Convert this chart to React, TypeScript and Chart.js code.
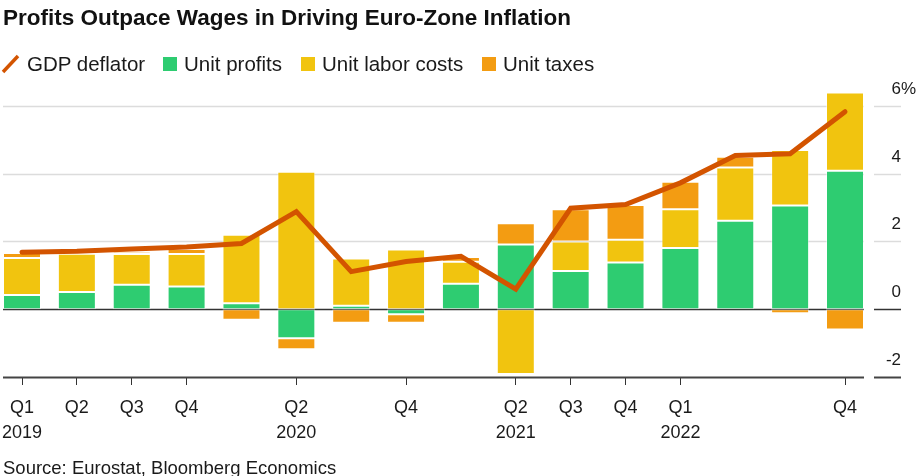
import React, { useEffect, useRef } from "react";
import { Chart, registerables } from "chart.js";

Chart.register(...registerables);

const quarters = [
  "Q1 2019", "Q2 2019", "Q3 2019", "Q4 2019",
  "Q1 2020", "Q2 2020", "Q3 2020", "Q4 2020",
  "Q1 2021", "Q2 2021", "Q3 2021", "Q4 2021",
  "Q1 2022", "Q2 2022", "Q3 2022", "Q4 2022",
];
const xTickTop = ["Q1", "Q2", "Q3", "Q4", "", "Q2", "", "Q4", "", "Q2", "Q3", "Q4", "Q1", "", "", "Q4"];
const xTickBottom = ["2019", "", "", "", "", "2020", "", "", "", "2021", "", "", "2022", "", "", ""];

const unitProfits = [0.42, 0.51, 0.72, 0.67, 0.18, -0.86, 0.10, -0.15, 0.75, 1.91, 1.13, 1.38, 1.81, 2.61, 3.06, 4.09];
const unitLabor = [1.09, 1.13, 0.91, 0.96, 2.02, 4.06, 1.40, 1.76, 0.65, -1.91, 0.87, 0.67, 1.14, 1.57, 1.64, 2.31];
const unitTaxes = [0.15, 0.04, 0.07, 0.15, -0.31, -0.32, -0.40, -0.25, 0.14, 0.63, 0.95, 1.03, 0.81, 0.32, -0.12, -0.60];
const gdpDeflator = [1.68, 1.71, 1.78, 1.84, 1.94, 2.88, 1.11, 1.41, 1.56, 0.59, 2.98, 3.09, 3.73, 4.54, 4.59, 5.83];

const yTicks = [-2, 0, 2, 4, 6];
const yMin = -2;
const yMax = 6.5;

const GREEN = "#2ECC71";
const YELLOW = "#F1C40F";
const ORANGE = "#F39C12";
const LINE = "#D35400";
const TEXT = "#1a1a1a";
const FONT = "'Liberation Sans', Arial, sans-serif";

const axesPlugin = {
  id: "customAxes",
  beforeDatasetsDraw(chart: any) {
    const ctx = chart.ctx;
    const y = chart.scales.y;
    const segs = [[3, 864], [874, 901]];
    ctx.save();
    yTicks.forEach((v) => {
      const py = Math.round(y.getPixelForValue(v)) + 0.5;
      if (v === 0) {
        ctx.strokeStyle = "#333333";
        ctx.lineWidth = 1.5;
      } else if (v === yMin) {
        ctx.strokeStyle = "#444444";
        ctx.lineWidth = 2;
      } else {
        ctx.strokeStyle = "#dcdcdc";
        ctx.lineWidth = 1.5;
      }
      segs.forEach(([a, b]) => {
        ctx.beginPath();
        ctx.moveTo(a, py);
        ctx.lineTo(b, py);
        ctx.stroke();
      });
    });
    ctx.restore();
  },
  afterDraw(chart: any) {
    const ctx = chart.ctx;
    const y = chart.scales.y;
    ctx.save();
    ctx.font = `17px ${FONT}`;
    ctx.fillStyle = TEXT;
    ctx.textBaseline = "alphabetic";
    yTicks.forEach((v) => {
      const py = y.getPixelForValue(v) - 12;
      ctx.textAlign = "right";
      ctx.fillText(String(v), 901, py);
      if (v === 6) {
        ctx.textAlign = "left";
        ctx.fillText("%", 901, py);
      }
    });
    ctx.restore();
  },
};

function ChartCanvas() {
  const ref = useRef<HTMLCanvasElement | null>(null);
  useEffect(() => {
    if (!ref.current) return;
    const barCommon = {
      type: "bar" as const,
      borderWidth: 1,
      borderColor: "rgba(255,255,255,0.45)",
      borderSkipped: false,
      categoryPercentage: 1,
      barPercentage: 0.6925,
      clip: false,
      order: 2,
      stack: "bars",
    };
    const chart = new Chart(ref.current, {
      type: "bar",
      data: {
        labels: quarters,
        datasets: [
          { ...barCommon, label: "Unit profits", data: unitProfits, backgroundColor: GREEN },
          { ...barCommon, label: "Unit labor costs", data: unitLabor, backgroundColor: YELLOW },
          { ...barCommon, label: "Unit taxes", data: unitTaxes, backgroundColor: ORANGE },
          {
            type: "line" as const,
            label: "GDP deflator",
            data: gdpDeflator,
            borderColor: LINE,
            backgroundColor: LINE,
            borderWidth: 5,
            borderCapStyle: "round",
            borderJoinStyle: "miter",
            pointRadius: 0,
            tension: 0,
            order: 0,
            stack: "line",
            clip: false,
          } as any,
        ],
      },
      options: {
        responsive: false,
        animation: false,
        events: [],
        layout: { padding: { top: 89, left: 22, right: 71, bottom: 30 } },
        plugins: {
          legend: { display: false },
          title: { display: false },
          tooltip: { enabled: false },
        },
        scales: {
          x: {
            type: "category",
            stacked: true,
            offset: false,
            border: { display: false },
            grid: {
              offset: false,
              drawOnChartArea: false,
              drawTicks: true,
              tickLength: 19,
              tickBorderDash: [8, 40],
              lineWidth: 1,
              color: (c: any) => (xTickTop[c.index] ? "#333333" : "rgba(0,0,0,0)"),
            },
            ticks: {
              autoSkip: false,
              maxRotation: 0,
              minRotation: 0,
              padding: 0,
              color: TEXT,
              font: { family: FONT, size: 18, lineHeight: "25px" } as any,
              callback: (_v: any, i: number) => [xTickTop[i], xTickBottom[i]],
            },
          },
          y: {
            display: false,
            stacked: true,
            min: yMin,
            max: yMax,
          },
        },
      },
      plugins: [axesPlugin],
    });
    return () => chart.destroy();
  }, []);
  return (
    <canvas
      ref={ref}
      width={916}
      height={476}
      style={{ position: "absolute", left: 0, top: 0, width: 916, height: 476 }}
    />
  );
}

const legendText: React.CSSProperties = {
  position: "absolute",
  top: 53,
  fontFamily: FONT,
  fontSize: 20.5,
  lineHeight: "21px",
  color: TEXT,
  whiteSpace: "nowrap",
};

function square(left: number, color: string) {
  return (
    <div style={{ position: "absolute", left, top: 57, width: 14, height: 14, background: color }} />
  );
}

export default function App() {
  return (
    <div style={{ position: "absolute", left: 0, top: 0, width: 916, height: 476, background: "#fff", overflow: "hidden" }}>
      <ChartCanvas />
      <div
        style={{
          position: "absolute",
          left: 3,
          top: 7,
          fontFamily: FONT,
          fontWeight: "bold",
          fontSize: 22.5,
          lineHeight: "22px",
          color: "#111",
          whiteSpace: "nowrap",
        }}
      >
        Profits Outpace Wages in Driving Euro-Zone Inflation
      </div>
      <svg style={{ position: "absolute", left: 0, top: 52, width: 22, height: 24 }} width={22} height={24}>
        <line x1={3} y1={20} x2={18} y2={4} stroke={LINE} strokeWidth={3.5} />
      </svg>
      <div style={{ ...legendText, left: 27 }}>GDP deflator</div>
      {square(163, GREEN)}
      <div style={{ ...legendText, left: 184 }}>Unit profits</div>
      {square(301, YELLOW)}
      <div style={{ ...legendText, left: 322 }}>Unit labor costs</div>
      {square(482, ORANGE)}
      <div style={{ ...legendText, left: 503 }}>Unit taxes</div>
      <div
        style={{
          position: "absolute",
          left: 3,
          top: 459,
          fontFamily: FONT,
          fontSize: 18.5,
          lineHeight: "18px",
          color: TEXT,
          whiteSpace: "nowrap",
        }}
      >
        Source: Eurostat, Bloomberg Economics
      </div>
    </div>
  );
}
